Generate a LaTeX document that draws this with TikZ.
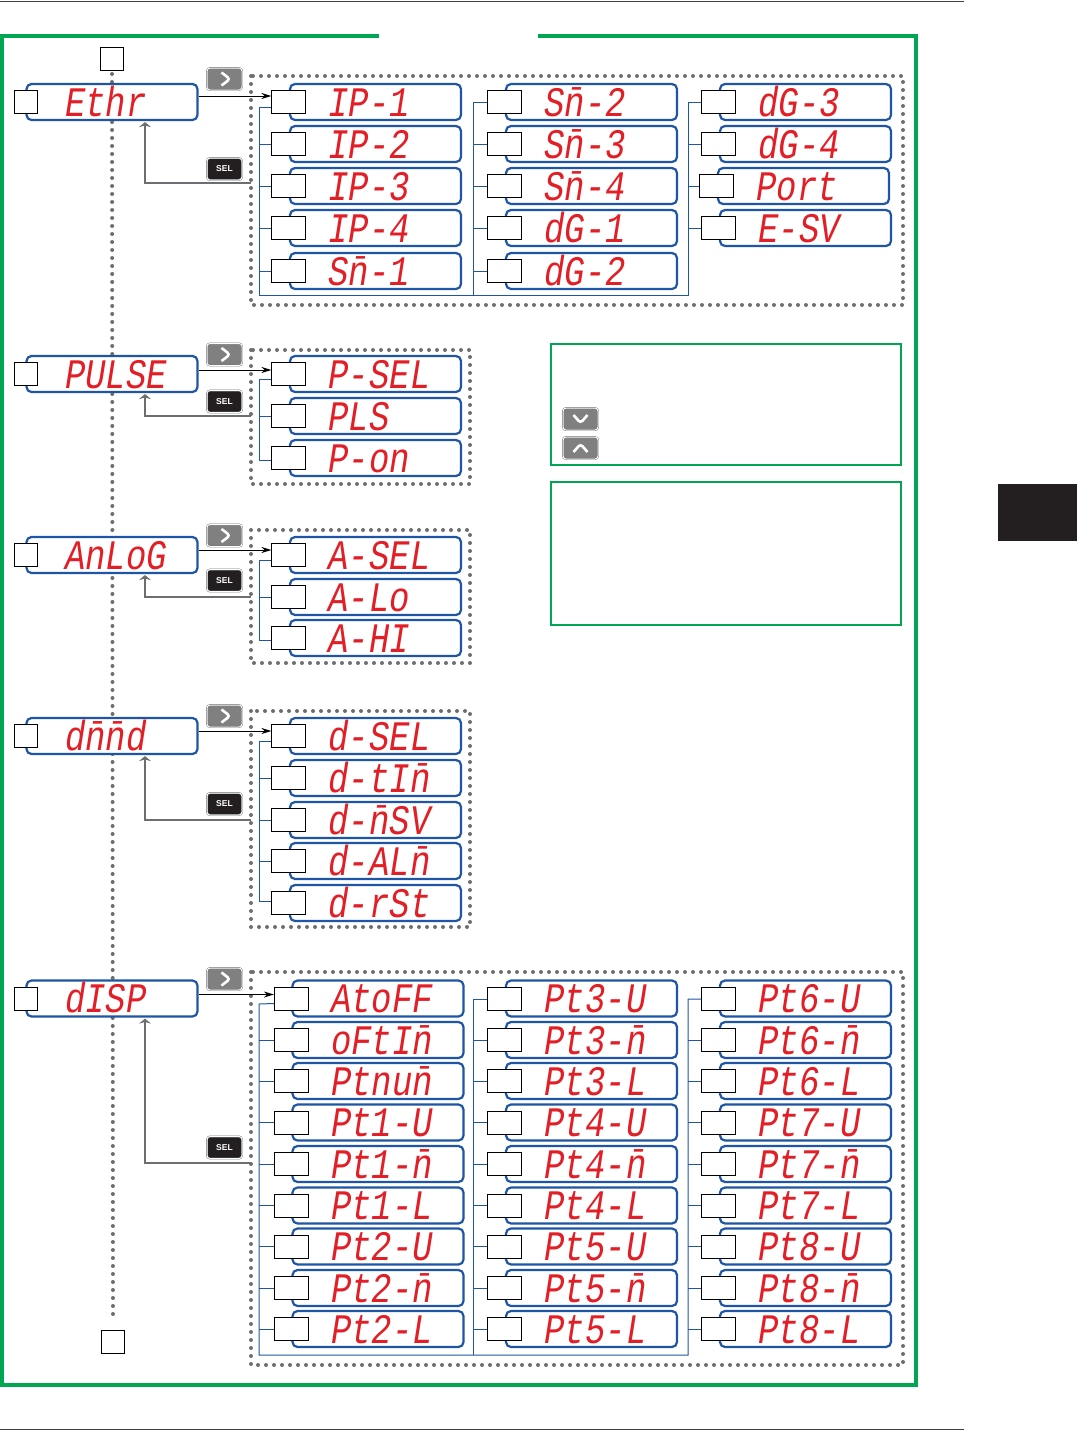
\documentclass[tikz,border=0pt]{standalone}
\usepackage{fontspec}
\usepackage{tikz}
\usetikzlibrary{arrows.meta}
\usepackage{xcolor}
\newfontfamily\segfont[FakeStretch=.81]{Liberation Mono}
\newfontfamily\keyfont{Liberation Sans}
\definecolor{framegreen}{HTML}{00A651}
\definecolor{wireblue}{HTML}{1F55A5}
\definecolor{segred}{HTML}{E21F26}
\definecolor{dotgray}{HTML}{6D6E71}
\definecolor{keygray}{HTML}{808080}
\definecolor{keyblack}{HTML}{231F20}

\begin{document}
\begin{tikzpicture}[x=1pt,y=-1pt,
	disp/.style={draw=wireblue,line width=2.2pt,fill=white,rounded corners=5pt,minimum width=171pt,minimum height=36pt,inner sep=0pt,text width=160pt,text height=28pt,text depth=0pt,align=left,text=segred,font=\segfont\itshape\fontsize{42}{42}\selectfont,execute at begin node={\hspace*{33pt}}},
	sq/.style={draw=black,line width=1pt,fill=white,minimum size=23pt,inner sep=0pt},
	tag/.style={sq,minimum width=34pt},
	wire/.style={draw=wireblue,line width=1pt},
	dotbox/.style={draw=dotgray,line width=4pt,line cap=round,dash pattern=on 0pt off 8pt},
	go/.style={draw=black,line width=1pt,-{Stealth[length=10pt,width=6pt]}},
	back/.style={draw=dotgray,line width=2pt,shorten >=1pt,-{Stealth[length=5pt,width=12pt]}},
	note/.style={draw=framegreen,line width=1.8pt},
	key/.style={draw=dotgray,double=white,double distance=1pt,line width=.4pt,rounded corners=3pt,minimum width=35pt,minimum height=22pt,inner sep=0pt},
	chev/.style={draw=white,line width=2.6pt},
	keyright/.style={key,fill=keygray,path picture={\draw[chev] ([shift={(-3pt,6.5pt)}]path picture bounding box.center) -- ([shift={(5.5pt,0pt)}]path picture bounding box.center) -- ([shift={(-3pt,-6.5pt)}]path picture bounding box.center);}},
	keydown/.style={key,fill=keygray,path picture={\draw[chev] ([shift={(-7pt,4pt)}]path picture bounding box.center) -- ([shift={(0pt,-4pt)}]path picture bounding box.center) -- ([shift={(7pt,4pt)}]path picture bounding box.center);}},
	keyup/.style={key,fill=keygray,path picture={\draw[chev] ([shift={(-7pt,-4pt)}]path picture bounding box.center) -- ([shift={(0pt,4pt)}]path picture bounding box.center) -- ([shift={(7pt,-4pt)}]path picture bounding box.center);}},
	keysel/.style={key,fill=keyblack,text=white,font=\keyfont\bfseries\fontsize{8.5}{8.5}\selectfont}]
	\useasboundingbox (0,0) rectangle (1077,1430);
	% page rules and frame
	\draw[black!75,line width=.9pt] (0,1) -- (964,1);
	\draw[black!75,line width=.9pt] (0,1429) -- (964,1429);
	\fill[keyblack] (998,484) rectangle (1077,541);
	\draw[framegreen,line width=3.5pt] (379,36) -- (2,36) -- (2,1385) -- (916,1385) -- (916,36) -- (538,36);
	\draw[note] (551,344) rectangle (901,465);
	\draw[note] (551,482) rectangle (901,625);
	\node[keydown] (k1) at (580.5,419) {};
	\node[keyup] (k2) at (580.5,448) {};
	% dotted groups
	\draw[dotbox] (251,76) rectangle (903,305);
	\draw[dotbox] (251,350) rectangle (470,484);
	\draw[dotbox] (251,530) rectangle (470,663);
	\draw[dotbox] (251,711) rectangle (470,927);
	\draw[dotbox] (251,972) rectangle (903,1365);
	% main column
	\node[sq] (start) at (112,59) {};
	\node[sq] (stop) at (113,1342) {};
	\draw[dotbox,shorten <=3pt,shorten >=9pt] (start) -- (stop);
	\node[disp] (m1) at (112,102) {Ethr};
	\node[disp] (m2) at (112,374) {PULSE};
	\node[disp] (m3) at (112,555) {AnLoG};
	\node[disp] (m4) at (112,736) {d\=n\=nd};
	\node[disp] (m5) at (112,998.5) {dISP};
	\node[sq] (a1) at ([xshift=.5pt]m1.west) {};
	\node[sq] (a2) at ([xshift=.5pt]m2.west) {};
	\node[sq] (a3) at ([xshift=.5pt]m3.west) {};
	\node[sq] (a4) at ([xshift=.5pt]m4.west) {};
	\node[sq] (a5) at ([xshift=.5pt]m5.west) {};
	% keys
	\node[keyright] (r1) at (224.5,79) {};
	\node[keyright] (r2) at (224.5,354.5) {};
	\node[keyright] (r3) at (224.5,535.5) {};
	\node[keyright] (r4) at (224.5,716) {};
	\node[keyright] (r5) at (224.5,979) {};
	\node[keysel] (s1) at (224.5,169) {SEL};
	\node[keysel] (s2) at (224.5,401.5) {SEL};
	\node[keysel] (s3) at (224.5,580.5) {SEL};
	\node[keysel] (s4) at (224.5,804) {SEL};
	\node[keysel] (s5) at (224.5,1147.5) {SEL};
	% first group
	\node[disp] (d1) at (375.5,102) {IP-1};
	\node[disp] (d2) at (375.5,144) {IP-2};
	\node[disp] (d3) at (375.5,186) {IP-3};
	\node[disp] (d4) at (375.5,228) {IP-4};
	\node[disp] (d5) at (375.5,271) {S\=n-1};
	\node[disp] (d6) at (591.5,102) {S\=n-2};
	\node[disp] (d7) at (591.5,144) {S\=n-3};
	\node[disp] (d8) at (591.5,186) {S\=n-4};
	\node[disp] (d9) at (591.5,228) {dG-1};
	\node[disp] (d10) at (591.5,271) {dG-2};
	\node[disp] (d11) at (805.5,102) {dG-3};
	\node[disp] (d12) at (805.5,144) {dG-4};
	\node[disp] (d13) at (803.5,186) {Port};
	\node[disp] (d14) at (805.5,228) {E-SV};
	% second to fourth group
	\node[disp] (d15) at (375.5,374) {P-SEL};
	\node[disp] (d16) at (375.5,416) {PLS};
	\node[disp] (d17) at (375.5,458) {P-on};
	\node[disp] (d18) at (375.5,555) {A-SEL};
	\node[disp] (d19) at (375.5,597) {A-Lo};
	\node[disp] (d20) at (375.5,638) {A-HI};
	\node[disp] (d21) at (375.5,736) {d-SEL};
	\node[disp] (d22) at (375.5,778) {d-tI\=n};
	\node[disp] (d23) at (375.5,820) {d-\=nSV};
	\node[disp] (d24) at (375.5,861) {d-AL\=n};
	\node[disp] (d25) at (375.5,903) {d-rSt};
	% last group
	\node[disp] (d26) at (378,998.5) {AtoFF};
	\node[disp] (d27) at (378,1040) {oFtI\=n};
	\node[disp] (d28) at (378,1081) {Ptnu\=n};
	\node[disp] (d29) at (378,1122.5) {Pt1-U};
	\node[disp] (d30) at (378,1164) {Pt1-\=n};
	\node[disp] (d31) at (378,1205.5) {Pt1-L};
	\node[disp] (d32) at (378,1246.5) {Pt2-U};
	\node[disp] (d33) at (378,1288) {Pt2-\=n};
	\node[disp] (d34) at (378,1329) {Pt2-L};
	\node[disp] (d35) at (591.5,998.5) {Pt3-U};
	\node[disp] (d36) at (591.5,1040) {Pt3-\=n};
	\node[disp] (d37) at (591.5,1081) {Pt3-L};
	\node[disp] (d38) at (591.5,1122.5) {Pt4-U};
	\node[disp] (d39) at (591.5,1164) {Pt4-\=n};
	\node[disp] (d40) at (591.5,1205.5) {Pt4-L};
	\node[disp] (d41) at (591.5,1246.5) {Pt5-U};
	\node[disp] (d42) at (591.5,1288) {Pt5-\=n};
	\node[disp] (d43) at (591.5,1329) {Pt5-L};
	\node[disp] (d44) at (805.5,998.5) {Pt6-U};
	\node[disp] (d45) at (805.5,1040) {Pt6-\=n};
	\node[disp] (d46) at (805.5,1081) {Pt6-L};
	\node[disp] (d47) at (805.5,1122.5) {Pt7-U};
	\node[disp] (d48) at (805.5,1164) {Pt7-\=n};
	\node[disp] (d49) at (805.5,1205.5) {Pt7-L};
	\node[disp] (d50) at (805.5,1246.5) {Pt8-U};
	\node[disp] (d51) at (805.5,1288) {Pt8-\=n};
	\node[disp] (d52) at (805.5,1329) {Pt8-L};
	% tags on the displays
	\foreach \i in {1,...,52}
		\node[tag] (t\i) at (d\i.west) {};
	% spines
	\coordinate (c1) at (259,107);
	\coordinate (c2) at (259,295);
	\coordinate (c3) at (473,102);
	\coordinate (c4) at (473,295);
	\coordinate (c5) at (688,102);
	\coordinate (c6) at (688,295);
	\draw[wire] ([yshift=-5pt]t1.west) -- (c1) -- (c2) -- (c6) -- (c5) -- (t11);
	\draw[wire] (c3) -- (c4);
	\draw[wire] (c3) -- (t6);
	\foreach \i in {2,3,4,5}
		\draw[wire] (t\i.west) -- (t\i.west -| c1);
	\foreach \i in {7,8,9,10}
		\draw[wire] (t\i.west) -- (t\i.west -| c3);
	\foreach \i in {12,13,14}
		\draw[wire] (t\i.west) -- (t\i.west -| c5);
	\coordinate (c7) at (259,379);
	\coordinate (c8) at (259,560);
	\coordinate (c9) at (259,741);
	\draw[wire] ([yshift=-5pt]t15.west) -- (c7) -- ([yshift=-2pt]t17.west -| c7) -- ([yshift=-2pt]t17.west);
	\draw[wire] (t16.west) -- (t16.west -| c7);
	\draw[wire] ([yshift=-5pt]t18.west) -- (c8) -- ([yshift=-2pt]t20.west -| c8) -- ([yshift=-2pt]t20.west);
	\draw[wire] (t19.west) -- (t19.west -| c8);
	\draw[wire] ([yshift=-5pt]t21.west) -- (c9) -- ([yshift=2pt]t25.west -| c9) -- ([yshift=2pt]t25.west);
	\foreach \i in {22,23,24}
		\draw[wire] (t\i.west) -- (t\i.west -| c9);
	\coordinate (c10) at (259,1004);
	\coordinate (c11) at (259,1355);
	\coordinate (c12) at (473,999);
	\coordinate (c13) at (473,1355);
	\coordinate (c14) at (688,999);
	\coordinate (c15) at (688,1355);
	\draw[wire] ([yshift=-5pt]t26.west) -- (c10) -- (c11) -- (c15) -- (c14) -- (t44.west |- c14);
	\draw[wire] (c12) -- (c13);
	\draw[wire] (c12) -- (t35.west |- c12);
	\foreach \i in {27,...,34}
		\draw[wire] (t\i.west) -- (t\i.west -| c10);
	\foreach \i in {36,...,43}
		\draw[wire] (t\i.west) -- (t\i.west -| c12);
	\foreach \i in {45,...,52}
		\draw[wire] (t\i.west) -- (t\i.west -| c14);
	% forward arrows
	\draw[go] ([yshift=6pt]m1.east) -- ([yshift=6pt]t1.west);
	\draw[go] ([yshift=4pt]m2.east) -- ([yshift=4pt]t15.west);
	\draw[go] ([yshift=5pt]m3.east) -- ([yshift=5pt]t18.west);
	\draw[go] ([yshift=5pt]m4.east) -- ([yshift=5pt]t21.west);
	\draw[go] ([yshift=4pt]m5.east) -- ([yshift=4pt]t26.west);
	% return arrows
	\coordinate (b1) at (251,183);
	\coordinate (b2) at (251,416);
	\coordinate (b3) at (251,597);
	\coordinate (b4) at (251,820);
	\coordinate (b5) at (251,1163);
	\foreach \i in {1,...,5}
		\draw[back] (b\i) -| ([xshift=33pt]m\i.south);
\end{tikzpicture}
\end{document}
